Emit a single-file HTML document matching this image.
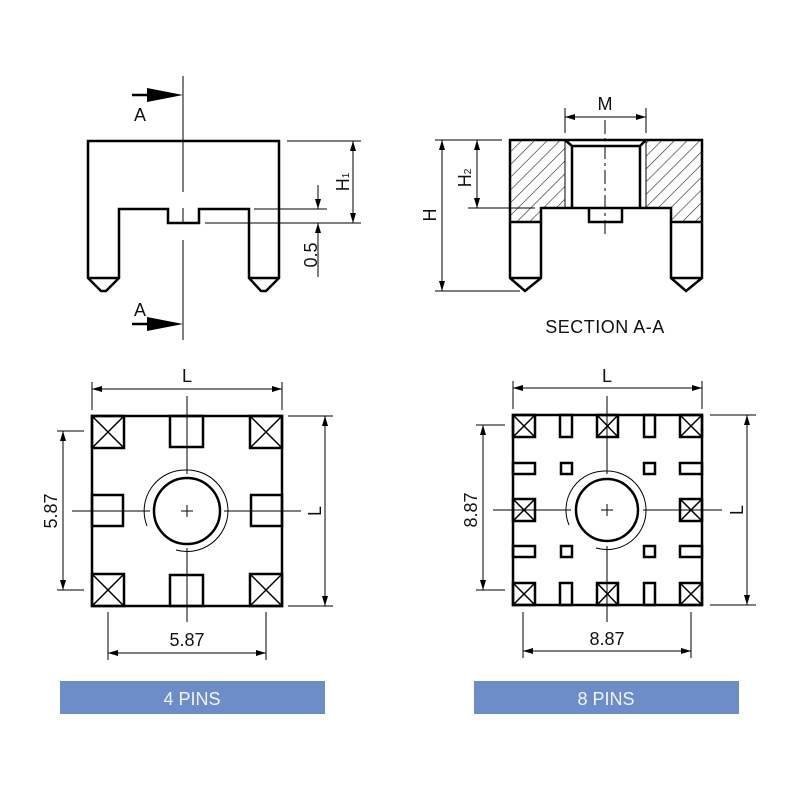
<!DOCTYPE html>
<html><head><meta charset="utf-8"><style>
html,body{margin:0;padding:0;background:#fff;}
svg{display:block;}
text{font-family:"Liberation Sans",sans-serif;fill:#111;}
</style></head><body>
<svg width="800" height="800" viewBox="0 0 800 800" xmlns="http://www.w3.org/2000/svg">
<defs>
<marker id="a" viewBox="0 0 10 6" refX="10" refY="3" markerWidth="10" markerHeight="6" markerUnits="userSpaceOnUse" orient="auto-start-reverse"><path d="M0,0 L10,3 L0,6 z" fill="#000"/></marker>
<pattern id="h" width="9" height="9" patternUnits="userSpaceOnUse" patternTransform="rotate(45)"><line x1="0" y1="0" x2="0" y2="9" stroke="#222" stroke-width="1.2"/></pattern>
</defs>
<g fill="none" stroke="#000">
<!-- TOP LEFT -->
<path d="M88,278 V141 H279 V278 M249,278 V209 H199 V223 H168 V209 H119 V278" stroke-width="2.5"/>
<path d="M88,278 L119,278 L106,291 L101,291 Z M249,278 L279,278 L266,291 L261,291 Z" stroke-width="2.5" stroke-linejoin="round"/>
<path d="M183,76 V192 M183,208 V222 M183,240 V340" stroke-width="1"/>
<line x1="132" y1="95" x2="147" y2="95" stroke-width="2.5"/>
<path d="M147,88 L183,95 L147,102 Z" fill="#000" stroke="none"/>
<line x1="132" y1="324" x2="147" y2="324" stroke-width="2.5"/>
<path d="M147,317 L183,324 L147,331 Z" fill="#000" stroke="none"/>
<g stroke-width="1">
<line x1="287" y1="141" x2="361" y2="141"/>
<line x1="205" y1="223" x2="361" y2="223"/>
<line x1="254" y1="209" x2="327" y2="209"/>
<line x1="353" y1="141" x2="353" y2="223" marker-start="url(#a)" marker-end="url(#a)"/>
<line x1="318" y1="185" x2="318" y2="209" marker-end="url(#a)"/>
<line x1="318" y1="277" x2="318" y2="223" marker-end="url(#a)"/>
</g>
<!-- TOP RIGHT -->
<path d="M510,140 H565 V208 H541 V222 H510 Z" fill="url(#h)" stroke="none"/>
<path d="M646,140 H702 V222 H671 V208 H646 Z" fill="url(#h)" stroke="none"/>
<path d="M510,222 V140 H702 V222 M510,222 H541 V208 H671 V222 H702 M572,145 V208 M640,145 V208 M565,140 L572,146 H640 L646,140 M589,208 V222 H622 V208" stroke-width="2.5"/>
<path d="M565,140 V208 M646,140 V208" stroke-width="1"/>
<path d="M510,222 V278 L525,291 L541,278 V222 M510,278 H541 M671,222 V278 L686,291 L702,278 V222 M671,278 H702" stroke-width="2.5"/>
<path d="M605,120 V237" stroke-width="1" stroke-dasharray="14,4,3,4"/>
<g stroke-width="1">
<line x1="565" y1="108" x2="565" y2="133"/>
<line x1="646" y1="108" x2="646" y2="133"/>
<line x1="565" y1="117" x2="646" y2="117" marker-start="url(#a)" marker-end="url(#a)"/>
<line x1="435" y1="140" x2="502" y2="140"/>
<line x1="435" y1="291" x2="520" y2="291"/>
<line x1="468" y1="208" x2="535" y2="208"/>
<line x1="442" y1="140" x2="442" y2="291" marker-start="url(#a)" marker-end="url(#a)"/>
<line x1="477" y1="140" x2="477" y2="208" marker-start="url(#a)" marker-end="url(#a)"/>
</g>
<!-- BOTTOM LEFT -->
<rect x="92" y="416" width="190" height="190" stroke-width="2.5"/>
<g stroke-width="2.5">
<rect x="92" y="416" width="32" height="32"/><rect x="250" y="416" width="32" height="32"/>
<rect x="92" y="574" width="32" height="32"/><rect x="250" y="574" width="32" height="32"/>
<rect x="170" y="416" width="33" height="31"/><rect x="170" y="575" width="33" height="31"/>
<rect x="92" y="495" width="31" height="31"/><rect x="251" y="495" width="31" height="31"/>
<circle cx="187" cy="511" r="33"/>
</g>
<g stroke-width="1.5">
<path d="M92,416 L124,448 M124,416 L92,448 M250,416 L282,448 M282,416 L250,448 M92,574 L124,606 M124,574 L92,606 M250,574 L282,606 M282,574 L250,606"/>
</g>
<g stroke-width="1">
<path d="M147,526 A41,41 0 0 1 187,470 A41,41 0 0 1 228,511 A41,41 0 0 1 176,550"/>
<path d="M187,396 V474 M187,548 V622 M72,511 H150 M224,511 H301 M181,511 H193 M187,505 V517"/>
<line x1="92" y1="382" x2="92" y2="410"/><line x1="282" y1="382" x2="282" y2="410"/>
<line x1="92" y1="389" x2="282" y2="389" marker-start="url(#a)" marker-end="url(#a)"/>
<line x1="288" y1="416" x2="333" y2="416"/><line x1="288" y1="606" x2="333" y2="606"/>
<line x1="325" y1="416" x2="325" y2="606" marker-start="url(#a)" marker-end="url(#a)"/>
<line x1="57" y1="431" x2="84" y2="431"/><line x1="57" y1="590" x2="84" y2="590"/>
<line x1="63" y1="431" x2="63" y2="590" marker-start="url(#a)" marker-end="url(#a)"/>
<line x1="108" y1="612" x2="108" y2="660"/><line x1="266" y1="612" x2="266" y2="660"/>
<line x1="108" y1="653" x2="266" y2="653" marker-start="url(#a)" marker-end="url(#a)"/>
</g>
<!-- BOTTOM RIGHT -->
<rect x="513" y="415" width="189" height="190" stroke-width="2.5"/>
<g stroke-width="2.5">
<rect x="513" y="415" width="22" height="22"/><rect x="597" y="415" width="21" height="22"/><rect x="680" y="415" width="22" height="22"/>
<rect x="513" y="499" width="22" height="22"/><rect x="680" y="499" width="22" height="22"/>
<rect x="513" y="583" width="22" height="22"/><rect x="597" y="583" width="21" height="22"/><rect x="680" y="583" width="22" height="22"/>
<rect x="560" y="415" width="12" height="22"/><rect x="644" y="415" width="11" height="22"/>
<rect x="560" y="583" width="12" height="22"/><rect x="644" y="583" width="11" height="22"/>
<rect x="513" y="463" width="22" height="11"/><rect x="680" y="463" width="22" height="11"/>
<rect x="513" y="546" width="22" height="11"/><rect x="680" y="546" width="22" height="11"/>
<rect x="561" y="463" width="11" height="11"/><rect x="644" y="463" width="11" height="11"/>
<rect x="561" y="546" width="11" height="11"/><rect x="644" y="546" width="11" height="11"/>
<circle cx="607" cy="510" r="31"/>
</g>
<g stroke-width="1.5">
<path d="M513,415 l22,22 m0,-22 l-22,22 M597,415 l21,22 m0,-22 l-21,22 M680,415 l22,22 m0,-22 l-22,22 M513,499 l22,22 m0,-22 l-22,22 M680,499 l22,22 m0,-22 l-22,22 M513,583 l22,22 m0,-22 l-22,22 M597,583 l21,22 m0,-22 l-21,22 M680,583 l22,22 m0,-22 l-22,22"/>
</g>
<g stroke-width="1">
<path d="M569,525 A39,39 0 0 1 607,471 A39,39 0 0 1 646,510 A39,39 0 0 1 596,548"/>
<path d="M607,396 V474 M607,546 V622 M493,510 H571 M643,510 H722 M601,510 H613 M607,504 V516"/>
<line x1="513" y1="381" x2="513" y2="409"/><line x1="702" y1="381" x2="702" y2="409"/>
<line x1="513" y1="388" x2="702" y2="388" marker-start="url(#a)" marker-end="url(#a)"/>
<line x1="710" y1="415" x2="756" y2="415"/><line x1="710" y1="605" x2="756" y2="605"/>
<line x1="747" y1="415" x2="747" y2="605" marker-start="url(#a)" marker-end="url(#a)"/>
<line x1="476" y1="425" x2="505" y2="425"/><line x1="476" y1="590" x2="505" y2="590"/>
<line x1="483" y1="425" x2="483" y2="590" marker-start="url(#a)" marker-end="url(#a)"/>
<line x1="523" y1="612" x2="523" y2="658"/><line x1="691" y1="612" x2="691" y2="658"/>
<line x1="523" y1="651" x2="691" y2="651" marker-start="url(#a)" marker-end="url(#a)"/>
</g>
</g>
<!-- TEXT -->
<g font-size="18">
<text x="140" y="121" text-anchor="middle">A</text>
<text x="140" y="316" text-anchor="middle">A</text>
<text transform="translate(349,182) rotate(-90)" text-anchor="middle">H<tspan font-size="10">1</tspan></text>
<text transform="translate(317,255) rotate(-90)" text-anchor="middle">0.5</text>
<text x="605" y="110" text-anchor="middle">M</text>
<text transform="translate(436,215) rotate(-90)" text-anchor="middle">H</text>
<text transform="translate(471,178) rotate(-90)" text-anchor="middle">H<tspan font-size="10">2</tspan></text>
<text x="605" y="333" text-anchor="middle" letter-spacing="0.5">SECTION  A-A</text>
<text x="187" y="382" text-anchor="middle">L</text>
<text transform="translate(321,511) rotate(-90)" text-anchor="middle">L</text>
<text transform="translate(57,511) rotate(-90)" text-anchor="middle">5.87</text>
<text x="187" y="646" text-anchor="middle">5.87</text>
<text x="607" y="382" text-anchor="middle">L</text>
<text transform="translate(743,510) rotate(-90)" text-anchor="middle">L</text>
<text transform="translate(477,510) rotate(-90)" text-anchor="middle">8.87</text>
<text x="607" y="645" text-anchor="middle">8.87</text>
</g>
<rect x="60" y="681" width="265" height="33" fill="#6d8dc8"/>
<rect x="474" y="681" width="265" height="33" fill="#6d8dc8"/>
<text x="192" y="705" text-anchor="middle" font-size="18" style="fill:#f2f4fa">4  PINS</text>
<text x="606" y="705" text-anchor="middle" font-size="18" style="fill:#f2f4fa">8  PINS</text>
</svg>
</body></html>
